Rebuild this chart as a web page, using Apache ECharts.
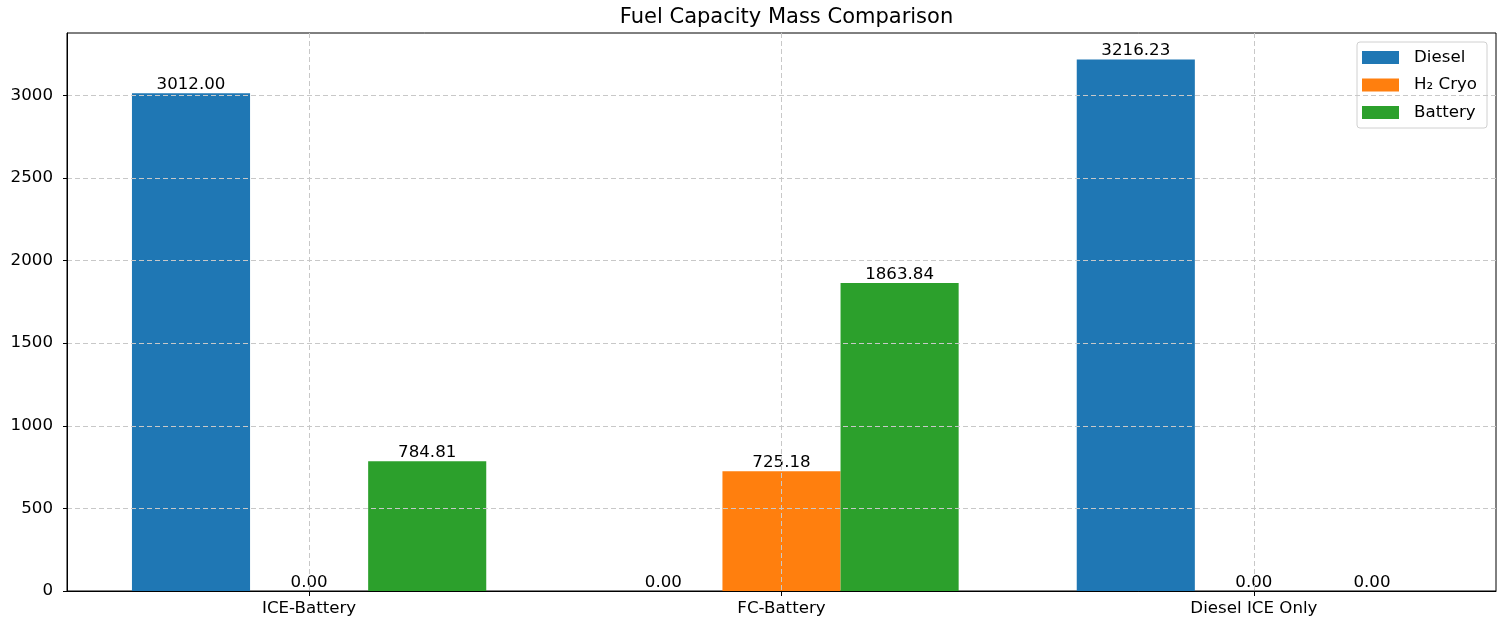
<!DOCTYPE html>
<html>
<head>
<meta charset="utf-8">
<script src="https://cdn.jsdelivr.net/npm/echarts@6/dist/echarts.min.js"></script>
<style>
html,body{margin:0;padding:0;background:#fff;}
#chart{width:1499px;height:624px;}
</style>
</head>
<body>
<div id="chart"></div>
<script>
const categories = ['ICE-Battery', 'FC-Battery', 'Diesel ICE Only'];
const seriesNames = ['Diesel', 'H\u2082 Cryo', 'Battery'];
const diesel = [3012.00, 0.00, 3216.23];
const h2Cryo = [0.00, 725.18, 0.00];
const battery = [784.81, 1863.84, 0.00];
const yTicks = [0, 500, 1000, 1500, 2000, 2500, 3000];
const colors = ['#1f77b4', '#ff7f0e', '#2ca02c'];

const values = [diesel, h2Cryo, battery];
const barUnit = 0.25;
const xMin = -0.5125, xMax = 2.5125;
const yMax = 3377.04;
const gridLeft = 67, gridTop = 33, gridWidth = 1429, gridHeight = 558;
const barPx = gridWidth / (xMax - xMin) * barUnit;
const font = 'DejaVu Sans';
const fs = 16.67;
const catIdx = categories.map((c, i) => i);

const chart = echarts.init(document.getElementById('chart'), null, {renderer: 'canvas'});

const series = values.map((arr, s) => ({
  name: seriesNames[s],
  type: 'bar',
  barWidth: barPx,
  barGap: '-100%',
  z: 2,
  itemStyle: {color: colors[s]},
  data: arr.map((v, i) => [i + (s - 1) * barUnit, v]),
  label: {
    show: true,
    position: 'top',
    distance: 0,
    color: '#000',
    fontFamily: font,
    fontSize: fs,
    formatter: p => p.value[1].toFixed(2)
  }
}));

chart.setOption({
  animation: false,
  backgroundColor: '#fff',
  title: {
    text: 'Fuel Capacity Mass Comparison',
    left: gridLeft + gridWidth / 2,
    textAlign: 'center',
    top: 2,
    textStyle: {fontFamily: font, fontSize: 21, fontWeight: 'normal', color: '#000'}
  },
  legend: {
    orient: 'vertical',
    left: 1357,
    top: 42,
    padding: [7, 10, 7, 5],
    itemWidth: 37,
    itemHeight: 13,
    itemGap: 10.5,
    borderColor: '#d0d0d0',
    borderWidth: 1,
    borderRadius: 3,
    backgroundColor: 'rgba(255,255,255,0.8)',
    icon: 'rect',
    textStyle: {fontFamily: font, fontSize: fs, color: '#000', lineHeight: 17, padding: [0, 0, 0, 10]},
    data: seriesNames
  },
  grid: {
    left: gridLeft, top: gridTop, width: gridWidth, height: gridHeight,
    outerBoundsMode: 'none',
    containLabel: false,
    show: true, borderColor: '#000', borderWidth: 1, backgroundColor: 'transparent'
  },
  xAxis: {
    type: 'value',
    min: xMin,
    max: xMax,
    z: 5,
    axisLine: {show: true, onZero: false, lineStyle: {color: '#000', width: 1}},
    axisTick: {show: true, length: 5, lineStyle: {color: '#000'}, customValues: catIdx},
    axisLabel: {
      show: true, margin: 9, color: '#000', fontFamily: font, fontSize: fs,
      customValues: catIdx,
      formatter: v => categories[Math.round(v)] || ''
    },
    splitLine: {show: true, lineStyle: {color: '#c8c8c8', type: [5, 3], width: 1}}
  },
  yAxis: {
    type: 'value',
    min: 0,
    max: yMax,
    z: 5,
    name: 'Mass (kg)',
    nameLocation: 'middle',
    nameGap: 74,
    nameRotate: 90,
    nameTextStyle: {fontFamily: font, fontSize: fs, color: '#000'},
    axisLine: {show: true, onZero: false, lineStyle: {color: '#000', width: 1}},
    axisTick: {show: true, length: 4, lineStyle: {color: '#000'}, customValues: yTicks},
    axisLabel: {
      show: true, margin: 14, color: '#000', fontFamily: font, fontSize: fs,
      customValues: yTicks,
      formatter: v => String(v)
    },
    splitLine: {show: true, lineStyle: {color: '#c8c8c8', type: [5, 3], width: 1}}
  },
  series: series
});
</script>
</body>
</html>
